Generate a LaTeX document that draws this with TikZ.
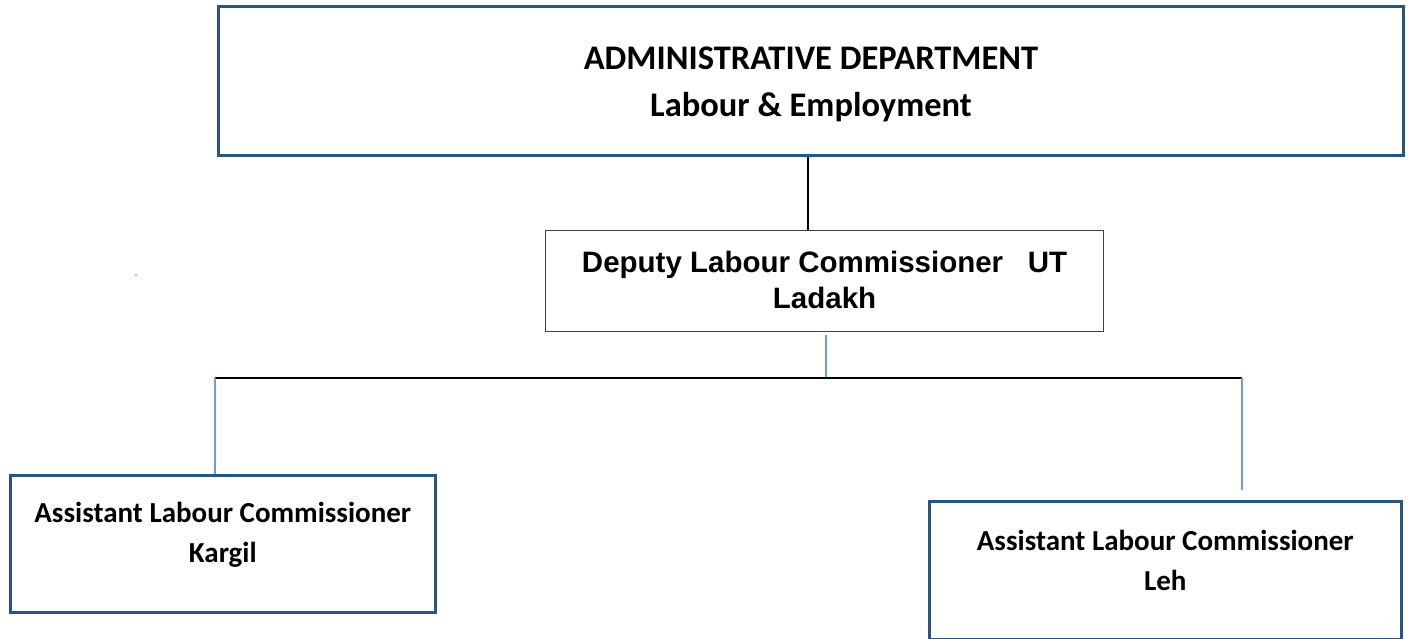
\documentclass[tikz,border=0pt]{standalone}
\usepackage{fontspec}
\setmainfont{Carlito}
\newfontfamily\arialbold{Liberation Sans}[BoldFont={* Bold}]
\usetikzlibrary{calc}
\definecolor{boxblue}{HTML}{2A5580}
\definecolor{linkblue}{HTML}{6A9ED6}
\definecolor{boxgray}{HTML}{404040}
\tikzset{
  orgbox/.style={draw=boxblue, line width=2.6pt, fill=white, anchor=north west, inner sep=0pt},
  midbox/.style={draw=boxgray, line width=1.1pt, fill=white, anchor=north west, inner sep=0pt},
  boxtext/.style={font=\bfseries\fontsize{29}{40}\selectfont, align=center, inner sep=0pt},
  toptext/.style={font=\bfseries\fontsize{34.5}{47}\selectfont, align=center, inner sep=0pt},
  midtext/.style={font=\arialbold\bfseries\fontsize{29.5}{36}\selectfont, align=center, inner sep=0pt},
  blackline/.style={draw=black, line width=1.2pt},
  blueline/.style={draw=linkblue, line width=1.1pt}
}
\begin{document}
\begin{tikzpicture}[x=1pt, y=-1pt]
  \useasboundingbox (0,0) rectangle (1408,639);

  % top: administrative department
  \node[orgbox, line width=3pt, minimum width=1185pt, minimum height=149pt] (admin) at (217,5) {};
  \node[toptext] (admintxt) at ($(admin.center)+(0,3)$) {ADMINISTRATIVE DEPARTMENT\\Labour \& Employment};

  % deputy labour commissioner
  \node[midbox, minimum width=558pt, minimum height=101pt] (dlc) at (545,230) {};
  \node[midtext] (dlctxt) at ($(dlc.center)+(0,-1)$) {Deputy Labour Commissioner\ \ \ UT\\Ladakh};

  % assistant labour commissioners
  \node[orgbox, minimum width=425pt, minimum height=137pt] (kargil) at (9,474) {};
  \node[boxtext] (kargiltxt) at ($(kargil.center)+(0,-9)$) {Assistant Labour Commissioner\\Kargil};

  \node[orgbox, minimum width=472pt, minimum height=138pt] (leh) at (928,500) {};
  \node[boxtext] (lehtxt) at ($(leh.center)+(0,-10)$) {Assistant Labour Commissioner\\Leh};

  % connectors
  \coordinate (jdlc) at (826,335);
  \coordinate (hmid) at (826,378);
  \coordinate (hleft) at (215,378);
  \coordinate (hright) at (1242,378);
  \coordinate (lehend) at (1242,490);

  \draw[blackline] (admin.south -| 808,0) -- (dlc.north -| 808,0);
  \draw[blueline] (jdlc) -- (hmid);
  \draw[blackline, line width=1.8pt] (hleft) -- (hright);
  \draw[blueline] (hleft) -- (kargil.north -| hleft);
  \draw[blueline] (hright) -- (lehend);

  % stray speck left of the chart
  \fill[linkblue!70] (135,274) rectangle (137,276);
\end{tikzpicture}
\end{document}
